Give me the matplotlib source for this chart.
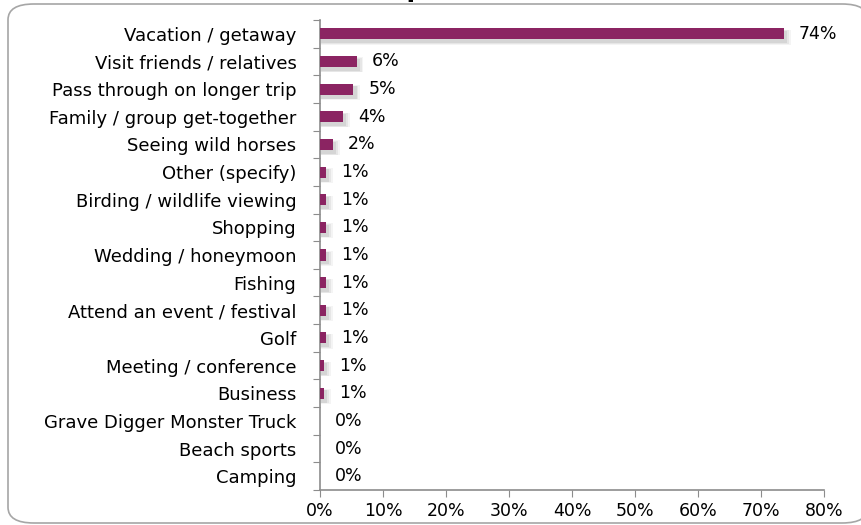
import matplotlib.pyplot as plt
from matplotlib.patches import FancyBboxPatch
from matplotlib.ticker import FuncFormatter

# Trip purpose shares (percent of respondents)
purposes = [
    'Vacation / getaway',
    'Visit friends / relatives',
    'Pass through on longer trip',
    'Family / group get-together',
    'Seeing wild horses',
    'Other (specify)',
    'Birding / wildlife viewing',
    'Shopping',
    'Wedding / honeymoon',
    'Fishing',
    'Attend an event / festival',
    'Golf',
    'Meeting / conference',
    'Business',
    'Grave Digger Monster Truck',
    'Beach sports',
    'Camping',
]
shares = [73.6, 5.8, 5.3, 3.6, 2.0, 0.9, 1.0, 1.0, 1.0, 1.0, 1.0, 1.0,
          0.6, 0.6, 0.0, 0.0, 0.0]
x_ticks = [0, 10, 20, 30, 40, 50, 60, 70, 80]

bar_color = '#8b2462'
axis_color = '#8c8c8c'

plt.rcParams['font.family'] = ['DejaVu Sans']

fig = plt.figure(figsize=(8.62, 5.25), dpi=100)

# rounded chart frame
frame = FancyBboxPatch((8 / 862, 2 / 525), 860 / 862, 519 / 525,
                       boxstyle='round,pad=0,rounding_size=0.03',
                       transform=fig.transFigure, facecolor='white',
                       edgecolor='#a6a6a6', linewidth=1.2, zorder=-5)
fig.patches.append(frame)

# title sits mostly above the top edge
fig.text(0.515, 1.005, 'Main Purpose (Overall)', ha='center', va='baseline',
         fontsize=18, fontweight='bold', color='black')

ax = fig.add_axes([320 / 862, 35 / 525, 504 / 862, 470 / 525])
ax.patch.set_alpha(0)

n = len(purposes)
y = list(range(n))

# soft drop shadow under each bar
for grow, alpha in [(0.9, 0.07), (0.6, 0.10), (0.3, 0.14)]:
    ax.barh([v + 0.12 for v in y], [s + grow if s > 0 else 0 for s in shares],
            height=0.4 + grow * 0.15, left=0.2, color='#707070', alpha=alpha,
            linewidth=0, zorder=1)

ax.barh(y, shares, height=0.4, color=bar_color, linewidth=0, zorder=3)

for yi, s in zip(y, shares):
    ax.annotate(f'{s:.0f}%', (s, yi), xytext=(11, 0), textcoords='offset points',
                va='center', ha='left', fontsize=12.5, color='black')

ax.set_ylim(n - 0.5, -0.5)
ax.set_xlim(0, 80)
ax.set_xticks(x_ticks)
ax.xaxis.set_major_formatter(FuncFormatter(lambda v, p: f'{v:.0f}%'))

ax.set_yticks([v - 0.5 for v in range(n + 1)])
ax.set_yticklabels([])
ax.set_yticks(y, minor=True)
ax.set_yticklabels(purposes, minor=True)
ax.tick_params(axis='y', which='minor', length=0, pad=17, labelsize=13)
ax.tick_params(axis='y', which='major', length=5, color=axis_color, direction='out')
ax.tick_params(axis='x', length=5, color=axis_color, direction='out',
               labelsize=12.5, pad=4)

for side in ['top', 'right']:
    ax.spines[side].set_visible(False)
for side in ['left', 'bottom']:
    ax.spines[side].set_color(axis_color)
    ax.spines[side].set_linewidth(1.2)

fig.savefig('out.png', dpi=100)
